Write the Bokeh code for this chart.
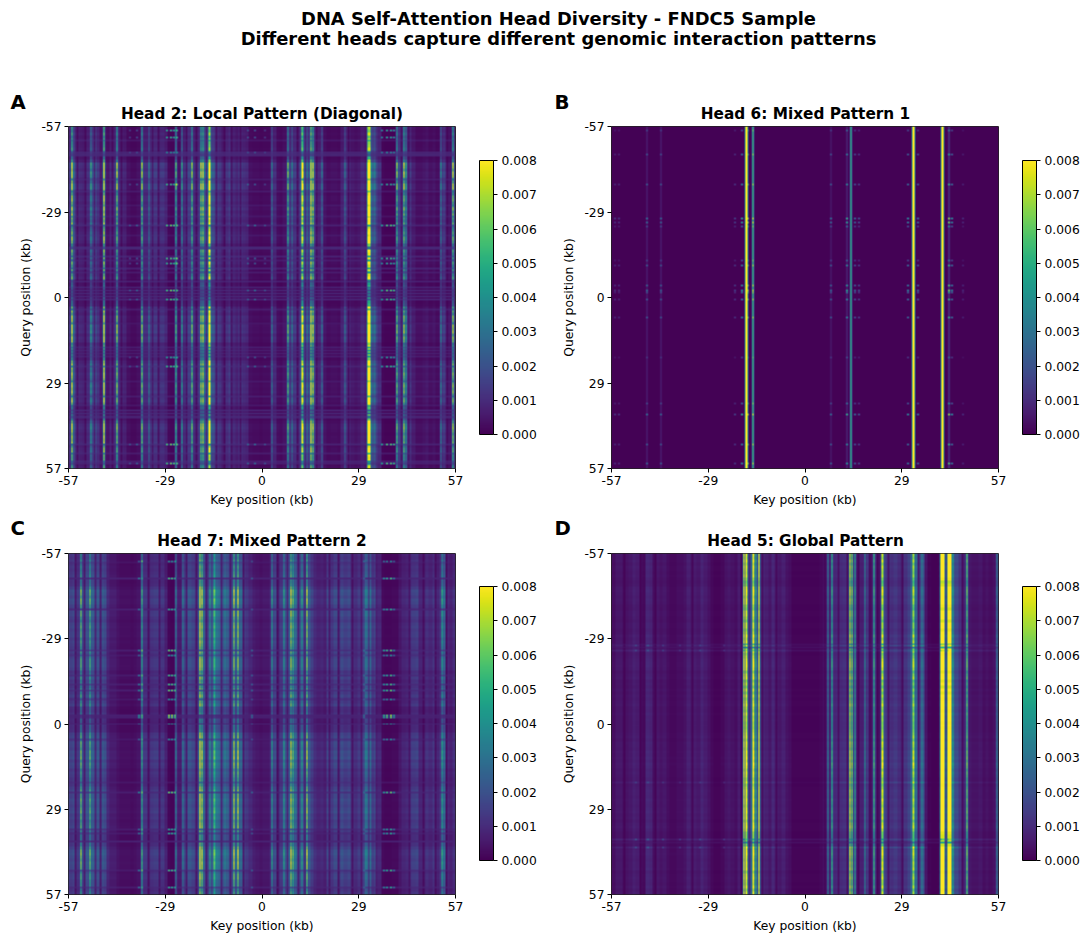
import numpy as np
from bokeh.embed import file_html
from bokeh.resources import INLINE
from bokeh.layouts import column, row
from bokeh.models import (ColorBar, FixedTicker, Label, LinearColorMapper, Range1d)
from bokeh.palettes import Viridis256
from bokeh.plotting import figure

FONT = "DejaVu Sans"
tick_values = [-57, -28.5, 0, 28.5, 57]
tick_labels = ["-57", "-29", "0", "29", "57"]
cbar_ticks = [0, 0.001, 0.002, 0.003, 0.004, 0.005, 0.006, 0.007, 0.008]
cbar_labels = ["0.000", "0.001", "0.002", "0.003", "0.004", "0.005", "0.006", "0.007", "0.008"]

# Column level (x 0.001) in 1 kb bins from -57 to 57
h2_base = [1.0,1.2,1.0,0.8,0.7,0.9,1.7,1.9,1.1,0.5,0.6,0.4,0.8,0.9,0.9,0.8,0.7,0.3,0.2,0.2,0.3,0.3,0.9,0.8,1.4,1.2,1.0,1.1,0.8,0.2,0.15,0.15,0.3,0.7,1.2,1.4,0.9,0.9,1.1,2.6,2.6,1.2,1.9,1.4,1.1,0.7,1.0,1.3,0.9,0.7,1.1,0.9,0.8,0.3,0.25,0.25,0.2,0.25,0.25,0.3,0.9,0.3,0.25,0.4,1.0,1.4,1.2,0.9,1.4,1.3,1.5,1.0,1.3,0.8,1.2,0.4,0.25,0.3,0.3,0.25,0.7,1.1,0.8,0.5,0.4,0.5,0.8,1.4,2.2,2.2,1.5,1.0,0.15,0.1,0.1,0.1,0.1,1.5,1.3,1.7,1.1,0.6,0.3,0.3,0.4,0.5,0.3,0.4,0.25,0.5,1.3,0.6,0.4,1.0]
h6_base = [0.05]*114
h7_base = [1.5,1.7,1.2,1.6,1.8,2.0,2.4,2.2,2.0,1.7,1.8,0.9,0.6,0.6,0.4,0.3,0.3,0.3,0.25,0.3,0.4,0.5,1.2,1.0,1.2,1.3,1.4,1.2,0.7,0.15,0.1,0.15,0.6,1.6,1.7,2.0,1.7,1.4,1.6,2.8,1.7,1.9,2.3,3.0,2.6,2.3,2.4,1.9,2.0,2.6,2.5,1.5,1.2,0.9,0.6,0.5,0.4,0.5,0.5,0.8,1.7,0.9,1.4,2.0,2.4,2.0,2.8,2.0,2.2,1.6,2.2,1.5,1.0,0.8,0.9,0.7,1.5,1.3,1.7,1.3,1.8,1.5,1.7,1.1,1.0,1.3,1.6,2.6,2.3,1.4,1.8,0.9,0.2,0.15,0.15,0.2,0.2,0.5,0.8,0.9,1.2,1.4,1.5,0.8,0.8,1.1,0.9,1.2,0.8,1.3,2.6,0.9,0.7,1.0]
h5_base = [0.3,0.5,0.5,0.3,0.4,0.5,0.7,0.6,0.3,0.2,0.9,0.8,0.3,0.5,0.4,0.5,0.3,0.2,0.2,0.3,0.3,0.4,0.7,0.5,0.6,0.5,0.8,0.6,0.4,0.2,0.1,0.1,0.2,0.4,0.5,0.4,0.3,0.6,0.3,2.5,2.5,1.2,1.5,1.0,0.9,0.7,0.5,0.9,0.6,0.5,0.7,0.4,0.3,0.1,0.1,0.1,0.1,0.1,0.1,0.1,0.1,0.2,0.3,0.8,0.5,0.9,1.0,1.0,1.1,0.9,1.5,1.5,0.5,0.7,1.2,1.3,0.4,0.9,0.4,1.0,1.5,1.2,1.1,1.3,1.0,0.8,1.2,1.6,2.8,2.8,1.5,2.2,0.5,0.1,0.05,0.05,0.1,1.8,1.2,3.2,2.5,1.8,1.2,0.8,0.9,0.5,0.4,0.4,0.5,0.3,0.4,0.3,0.4,0.8]

# Thin dark slits between the stripes: key position (kb)
h2_slit_kb = [-54.7,-52.4,-49.6,-44.3,-41.6,-32.4,-30.6,-22.4,-19.4,-16.5,-13.6,-11.3,-9.2,-6.6,8.5,10.3,12.9,16.0,25.5,30.4,41.0,43.2,54.6]
h6_slit_kb = []
h7_slit_kb = [-55.1,-52.6,-49.3,-47.9,-33.6,-30.4,-22.4,-19.6,-16.5,-12.2,-9.5,-5.5,4.5,7.4,10.5,12.6,19.7,22.5,26.5,29.3,31.5,33.6,43.5,47.5,51.0,54.2]
h5_slit_kb = [-53.4,-48.6,-44.2,-33.5,-19.0,-16.4,-12.6,-8.6,5.8,9.6,12.4,15.6,18.8,21.4,24.6,28.6,33.4,46.4]

# Bright vertical stripes: key position (kb) and level (x 0.001)
h2_peak_kb = [-56.0,-55.4,-50.4,-46.7,-42.8,-35.3,-33.3,-25.4,-23.6,-20.6,-17.9,-17.4,-15.7,-15.4,3.1,7.7,9.0,11.8,12.1,13.3,14.6,15.0,17.6,24.5,31.2,31.6,32.0,33.3,40.0,42.0,42.4,53.0,56.4]
h2_peak_val = [7.0,2.5,4.0,7.5,5.8,5.5,3.0,4.5,3.8,5.3,6.0,6.5,8.5,7.0,2.8,5.0,3.0,8.0,6.5,3.0,8.0,6.5,2.6,2.5,9.0,9.5,7.5,2.8,5.2,5.8,4.0,3.2,6.0]
h6_peak_kb = [-46.7,-42.5,-17.5,-15.4,7.6,12.3,13.5,31.8,32.2,40.5,42.5]
h6_peak_val = [0.6,0.6,10.0,5.2,0.5,0.8,5.0,10.0,5.0,10.0,1.2]
h7_peak_kb = [-53.6,-50.7,-47.0,-35.3,-25.3,-23.4,-18.2,-17.8,-15.5,-14.3,-13.9,-11.0,-8.3,-7.0,3.1,6.5,8.7,9.1,11.7,13.3,30.6,32.0,53.2]
h7_peak_val = [5.8,5.5,2.2,4.6,3.2,3.2,8.0,6.9,4.2,5.4,4.8,3.2,6.6,6.8,4.2,4.2,6.8,5.5,4.4,6.5,3.2,2.8,4.4]
h5_peak_kb = [-17.9,-17.5,-17.1,-15.5,-15.1,-14.5,-13.5,6.8,8.0,13.4,13.8,14.8,17.6,20.3,22.6,23.0,31.8,32.2,34.6,40.3,40.7,42.1,42.5,42.9,43.6,47.8,56.7]
h5_peak_val = [8.0,8.4,7.0,8.4,7.0,5.0,8.4,3.2,5.0,7.5,6.5,4.4,3.4,5.2,7.5,7.0,7.0,6.5,3.4,9.0,9.0,9.0,9.0,9.0,4.4,6.0,3.4]

# Sparkles that show only on the hot rows: key position (kb) and level (x 0.001)
h2_spark_kb = [-39.0,-37.0,-28.0,-27.0,-26.0,-25.0,-4.0,-2.0,1.0,35.5,37.0,38.0,39.0]
h2_spark_val = [1.5,2.0,5.5,6.5,6.0,5.5,2.0,2.5,1.5,4.5,6.0,6.0,5.5]
h6_spark_kb = [-56.0,-55.0,-46.7,-42.5,-20.6,-18.5,-16.9,-15.4,7.6,12.3,14.8,16.0,30.5,33.5,42.5,43.5,46.8]
h6_spark_val = [1.2,1.2,2.5,2.2,1.6,5.0,3.5,2.5,2.6,4.5,2.8,2.2,4.0,3.0,6.0,4.0,1.0]
h7_spark_kb = [-36.3,-35.5,-27.5,-26.5,-25.8,-3.0,30.0,36.0,37.0,38.0,39.0]
h7_spark_val = [3.5,4.5,6.5,6.5,5.5,2.0,2.0,4.5,5.5,6.5,3.5]
h5_spark_kb = [-50.0,-46.5,-42.0,-37.0,-31.0,-24.0]
h5_spark_val = [1.4,1.4,1.2,1.1,1.2,1.0]

# Horizontal bands that flatten the columns: query position (kb) and blend share
h2_band_kb = [-52.8,-48.5,-48.0,-47.5,-39.6,-35.6,-31.0,-27.2,-24.4,-21.0,-17.0,-16.4,-14.0,-12.5,-10.0,-8.5,-5.5,-3.5,-2.5,-1.5,-0.5,0.5,3.7,8.4,16.5,17.5,18.5,19.5,23.0,28.0,33.0,36.0,37.5,38.5,39.5,40.0,49.0,52.0,54.5,55.2]
h2_band_mix = [0.3,0.6,0.7,0.6,0.35,0.35,0.25,0.25,0.5,0.25,0.7,0.7,0.5,0.4,0.5,0.4,0.5,0.5,0.6,0.6,0.6,0.6,0.4,0.25,0.4,0.4,0.4,0.4,0.4,0.3,0.4,0.3,0.6,0.6,0.6,0.6,0.5,0.4,0.5,0.5]
h6_band_kb = []
h6_band_mix = []
h7_band_kb = [-54.2,-48.9,-38.7,-25.0,-23.3,-16.6,-13.6,-11.4,-8.6,-3.1,-2.4,-0.3,5.3,19.5,23.0,35.3,36.7,39.2,49.0,54.7]
h7_band_mix = [0.3,0.8,0.7,0.6,0.4,0.5,0.6,0.6,0.4,0.8,0.7,0.8,0.4,0.4,0.6,0.5,0.5,0.8,0.5,0.6]
h5_band_kb = [-27.0,-26.0,-25.0,38.5,39.5]
h5_band_mix = [0.3,0.4,0.3,0.35,0.4]

# Rows on which the sparkles appear: query position (kb) and strength
h2_hot_kb = [-56.0,-53.5,-48.5,-38.0,-24.4,-13.3,-11.4,-2.5,0.6,19.9,23.0,49.0,55.2]
h2_hot_val = [0.8,0.8,0.5,0.8,0.9,0.9,0.8,0.9,0.8,0.7,0.8,0.9,0.9]
h6_hot_kb = [-56.0,-48.0,-38.0,-26.6,-25.3,-24.0,-11.0,-12.5,-4.3,-2.5,-1.7,0.5,6.4,20.0,35.4,39.0,49.0,55.2]
h6_hot_val = [0.4,0.6,0.7,1.0,0.9,0.5,0.7,0.4,0.8,0.9,0.6,0.7,0.7,0.3,0.5,1.0,0.7,0.8]
h7_hot_kb = [-54.5,-48.9,-38.7,-25.0,-23.3,-16.6,-13.6,-11.4,-8.6,-3.1,-2.4,-0.3,5.3,23.0,35.3,36.7,49.0,54.7]
h7_hot_val = [0.6,0.8,0.7,0.9,0.6,0.8,0.8,0.9,0.6,1.0,0.9,0.6,0.6,0.9,0.7,0.7,0.8,0.7]
h5_hot_kb = [-26.5,-25.0,19.4,38.5,41.3]
h5_hot_val = [0.6,0.6,0.5,0.8,0.7]

# Overall brightness of the column pattern in 3 kb bins from the top
h2_gain = [0.75,0.75,0.75,0.7,1.2,1.2,1.25,1.05,1.0,1.05,1.0,0.95,0.95,0.9,1.0,0.95,0.9,0.6,0.5,0.65,1.0,1.1,1.1,1.05,0.8,0.85,1.05,1.05,1.05,1.1,1.0,0.75,0.8,1.05,1.0,1.0,0.95,0.8]
h6_gain = [1.0]*38
h7_gain = [0.8,0.8,0.85,0.9,1.1,1.1,1.05,1.0,1.0,0.95,0.95,1.0,0.95,0.9,0.9,0.95,0.9,0.7,0.65,0.75,1.0,1.05,1.05,1.0,0.9,0.9,1.0,1.05,1.05,1.0,0.95,0.85,0.9,1.1,1.1,1.0,0.95,0.85]
h5_gain = [1.0,1.0,0.95,0.95,1.0,0.95,0.95,0.95,0.9,1.0,1.0,1.0,1.0,1.0,0.95,0.95,1.0,1.0,1.0,1.0,1.0,1.0,1.0,1.05,1.0,1.0,1.0,1.0,1.0,1.0,1.0,0.95,0.9,1.0,1.0,1.0,1.0,1.0]

# Row-by-row variation along the bright stripes in 1 kb bins from the top
row_texture = [1.0,0.85,1.1,0.8,1.05,0.9,0.95,1.1,0.8,0.6,0.7,1.15,1.2,1.1,0.85,1.2,1.1,0.8,0.7,1.05,1.1,0.9,0.7,1.0,1.15,0.9,1.05,1.2,0.85,1.1,0.95,0.8,1.1,0.7,0.85,1.05,1.15,1.2,1.0,0.65,0.9,1.1,0.75,0.95,0.7,1.0,0.75,1.05,0.7,0.85,1.1,0.8,0.7,0.95,0.75,0.8,0.7,0.75,0.7,0.8,0.9,1.05,0.8,1.1,1.0,0.85,1.2,1.1,1.25,0.9,1.2,1.05,0.85,1.1,0.95,0.75,0.8,0.7,0.85,1.1,1.0,0.9,1.15,1.0,0.85,1.05,1.2,0.95,1.1,0.8,1.05,1.2,0.9,0.75,0.7,0.7,0.8,0.75,1.2,1.15,1.25,1.05,0.9,1.1,1.0,1.15,0.7,0.95,1.1,0.85,0.8,1.1,0.7,1.0]

panel_titles = ["Head 2: Local Pattern (Diagonal)", "Head 6: Mixed Pattern 1", "Head 7: Mixed Pattern 2", "Head 5: Global Pattern"]
panel_letters = ["A", "B", "C", "D"]
flat_levels = [1.1, 0.0, 0.8, 0.6]
spark_from_base = [0.0, 0.0, 0.0, 0.7]
texture_share = [0.7, 0.0, 0.5, 0.4]
super_title = ["DNA Self-Attention Head Diversity - FNDC5 Sample", "Different heads capture different genomic interaction patterns"]

NX, NY = 387, 342
mapper = LinearColorMapper(palette=Viridis256, low=0, high=0.008)


def px(kb, n):
    return int(np.clip(round((kb + 57) / 114 * (n - 1)), 0, n - 1))


def resample(values, n):
    return np.array(values, dtype=float)[np.minimum((np.arange(n) / n * len(values)).astype(int), len(values) - 1)]


def paint(line, kbs, vals, n, side=0.35):
    for kb, v in zip(kbs, vals):
        i = px(kb, n)
        last = min(i + 1, n - 1) if v >= 8.5 else i
        line[i:last + 1] = np.maximum(line[i:last + 1], v)
        for k in (i - 1, last + 1):
            if 0 <= k < n:
                line[k] = max(line[k], v * side)
    return line


def matrix(base, slit_kb, peak_kb, peak_val, spark_kb, spark_val, band_kb, band_mix, hot_kb, hot_val, gain, flat, k, tex):
    base_line = resample(base, NX)
    for kb in slit_kb:
        i = px(kb, NX)
        base_line[i:i + 2] *= 0.4
    col = paint(base_line.copy(), peak_kb, peak_val, NX)
    spark = paint(np.zeros(NX), spark_kb, spark_val, NX, side=0.3) + k * base_line
    gains = resample(gain, NY) * (1 - tex + tex * resample(row_texture, NY))
    mix = np.zeros(NY)
    for kb, m in zip(band_kb, band_mix):
        i = px(kb, NY)
        mix[i:i + 2] = np.maximum(mix[i:i + 2], m)
    hot = np.zeros(NY)
    for kb, h in zip(hot_kb, hot_val):
        i = px(kb, NY)
        hot[i:i + 2] = np.maximum(hot[i:i + 2], h)
    v = col[None, :] * (gains * (1 - mix))[:, None] + (mix * flat)[:, None] + hot[:, None] * spark[None, :]
    return v * 0.001


matrices = [
    matrix(h2_base, h2_slit_kb, h2_peak_kb, h2_peak_val, h2_spark_kb, h2_spark_val, h2_band_kb, h2_band_mix, h2_hot_kb, h2_hot_val, h2_gain, flat_levels[0], spark_from_base[0], texture_share[0]),
    matrix(h6_base, h6_slit_kb, h6_peak_kb, h6_peak_val, h6_spark_kb, h6_spark_val, h6_band_kb, h6_band_mix, h6_hot_kb, h6_hot_val, h6_gain, flat_levels[1], spark_from_base[1], texture_share[1]),
    matrix(h7_base, h7_slit_kb, h7_peak_kb, h7_peak_val, h7_spark_kb, h7_spark_val, h7_band_kb, h7_band_mix, h7_hot_kb, h7_hot_val, h7_gain, flat_levels[2], spark_from_base[2], texture_share[2]),
    matrix(h5_base, h5_slit_kb, h5_peak_kb, h5_peak_val, h5_spark_kb, h5_spark_val, h5_band_kb, h5_band_mix, h5_hot_kb, h5_hot_val, h5_gain, flat_levels[3], spark_from_base[3], texture_share[3]),
]

TOP = 44


def panel(idx, width, left, bottom, title_x, letter_x, title_y, letter_y):
    p = figure(width=width, height=TOP + NY + bottom, output_backend="svg", toolbar_location=None,
               x_range=Range1d(-57, 57), y_range=Range1d(57, -57),
               min_border_left=left, min_border_top=TOP, min_border_bottom=bottom,
               min_border_right=width - left - NX,
               x_axis_label="Key position (kb)", y_axis_label="Query position (kb)")
    p.image(image=[matrices[idx]], x=-57, y=-57, dw=114, dh=114, color_mapper=mapper)
    p.grid.visible = False
    p.outline_line_color = "#222222"
    p.outline_line_width = 1
    for ax in (p.xaxis[0], p.yaxis[0]):
        ax.ticker = FixedTicker(ticks=tick_values)
        ax.major_label_overrides = dict(zip(tick_values, tick_labels))
        ax.major_tick_in = 0
        ax.major_tick_out = 4
        ax.minor_tick_line_color = None
        ax.axis_line_color = None
        ax.major_label_text_font = FONT
        ax.major_label_text_font_size = "12.3px"
        ax.major_label_text_color = "black"
        ax.major_label_standoff = 3
        ax.axis_label_text_font = FONT
        ax.axis_label_text_font_size = "12.3px"
        ax.axis_label_text_font_style = "normal"
        ax.axis_label_text_color = "black"
        ax.axis_label_standoff = 5
    p.yaxis[0].major_label_orientation = "horizontal"
    cb = ColorBar(color_mapper=mapper, width=14, height=274, location=(24, 34),
                  ticker=FixedTicker(ticks=cbar_ticks),
                  major_label_overrides=dict(zip(cbar_ticks, cbar_labels)),
                  major_tick_in=0, major_tick_out=4, major_tick_line_color="black",
                  bar_line_color="black", bar_line_width=1, background_fill_alpha=0,
                  border_line_color=None, padding=0, margin=0,
                  major_label_text_font=FONT, major_label_text_font_size="12.3px",
                  major_label_text_color="black", label_standoff=4)
    p.add_layout(cb, "right")
    p.add_layout(Label(x=title_x, y=title_y, x_units="canvas", y_units="canvas", text=panel_titles[idx],
                       text_align="center", text_baseline="middle", text_font=FONT,
                       text_font_size="15.3px", text_font_style="bold", text_color="black"), "above")
    p.add_layout(Label(x=letter_x, y=letter_y, x_units="canvas", y_units="canvas", text=panel_letters[idx],
                       text_baseline="middle", text_font=FONT,
                       text_font_size="19.7px", text_font_style="bold", text_color="black"), "above")
    return p


header = figure(width=1086, height=82, output_backend="svg", toolbar_location=None,
                x_range=Range1d(0, 1), y_range=Range1d(0, 1), min_border=0, outline_line_color=None)
header.axis.visible = False
header.grid.visible = False
for text, y in zip(super_title, [7, 27]):
    header.add_layout(Label(x=558, y=y, x_units="canvas", y_units="canvas", text=text,
                            text_align="center", text_baseline="top", text_font=FONT,
                            text_font_size="17.9px", text_font_style="bold", text_color="black"))

a = panel(0, 551, 68, 41, 261.5, 10, 31, 20)
b = panel(1, 535, 60, 41, 254, 3, 31, 20)
c = panel(2, 551, 68, 40, 261.5, 10, 31, 19)
d = panel(3, 535, 60, 40, 254, 3, 31, 19)
page = column(header, row(a, b, spacing=0), row(c, d, spacing=0), spacing=0)
open("out.html", "w").write(file_html(page, INLINE))
